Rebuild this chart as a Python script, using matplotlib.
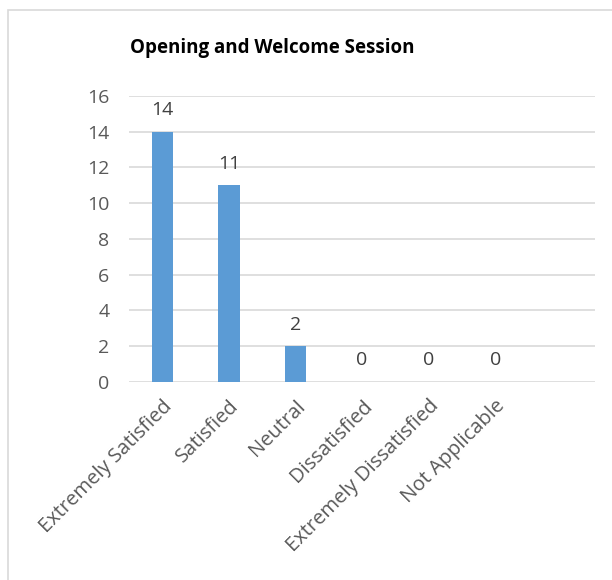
import matplotlib.pyplot as plt
from matplotlib.patches import Rectangle
from matplotlib.transforms import ScaledTranslation

categories = ["Extremely Satisfied", "Satisfied", "Neutral", "Dissatisfied",
              "Extremely Dissatisfied", "Not Applicable", ""]
counts = [14, 11, 2, 0, 0, 0]
y_ticks = [0, 2, 4, 6, 8, 10, 12, 14, 16]

plt.rcParams["font.family"] = ["Open Sans", "DejaVu Sans"]

fig = plt.figure(figsize=(6.12, 5.8), dpi=100)
ax = fig.add_axes([0.2108, 0.3414, 0.7614, 0.4931])

# outer chart border (Excel-like)
fig.patches.append(Rectangle((8 / 612, -0.05), 1.2, 1 - 10 / 580 + 0.05,
                             transform=fig.transFigure, fill=False,
                             edgecolor="#D9D9D9", linewidth=1.2))

x = list(range(len(categories)))
ax.bar(x[:len(counts)], counts, width=0.32, color="#5B9BD5", zorder=3)
for xi, c in zip(x, counts):
    ax.text(xi, c + 0.7, str(c), ha="center", va="bottom",
            fontsize=14, color="#404040")

ax.set_xlim(-0.5, len(categories) - 0.5)
ax.set_ylim(0, 16)
ax.set_yticks(y_ticks)
ax.yaxis.grid(True, color="#D9D9D9", linewidth=1.2, zorder=0)
ax.set_axisbelow(True)
for s in ax.spines.values():
    s.set_visible(False)
ax.tick_params(axis="y", length=0, labelsize=14, labelcolor="#595959", pad=14)
ax.tick_params(axis="x", length=0, labelsize=14.5, labelcolor="#595959", pad=8)
ax.set_xticks(x)
ax.set_xticklabels(categories, rotation=45, ha="right", rotation_mode="anchor")
shift = ScaledTranslation(0, -3 / 100, fig.dpi_scale_trans)
for lbl in ax.get_xticklabels():
    lbl.set_transform(lbl.get_transform() + shift)

fig.text(272 / 612, 1 - 48 / 580, "Opening and Welcome Session",
         ha="center", va="center", fontsize=13.5, fontweight="bold", color="black")

fig.savefig("out.png", dpi=100)
